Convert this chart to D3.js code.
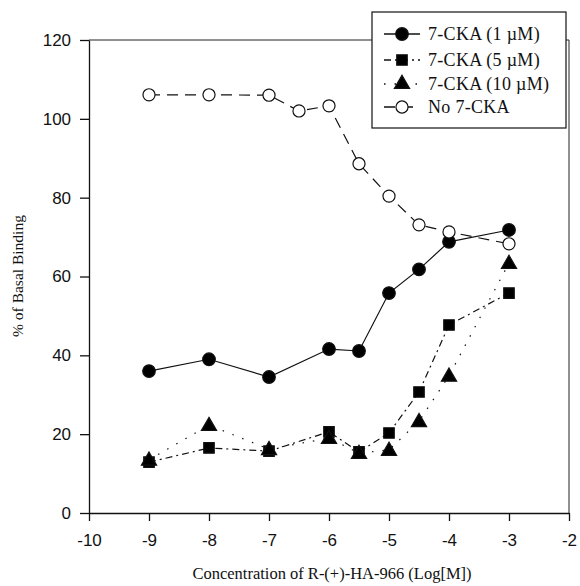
<!DOCTYPE html>
<html><head><meta charset="utf-8">
<script src="https://cdn.jsdelivr.net/npm/d3@7"></script>
<style>body{margin:0;background:#fff}svg{display:block}</style>
</head><body>
<svg id="c" width="580" height="586"></svg>
<script>
const xValues = [-9, -8, -7, -6, -5.5, -5, -4.5, -4, -3];
const xValuesNo = [-9, -8, -7, -6.5, -6, -5.5, -5, -4.5, -4, -3];
const cka1 = [36, 39, 34.5, 41.6, 41.1, 55.8, 61.8, 68.8, 71.8];
const cka5 = [12.9, 16.5, 15.7, 20.6, 15.5, 20.3, 30.7, 47.7, 55.8];
const cka10 = [13.5, 22.3, 16.2, 19, 15.2, 16, 23.3, 34.8, 63.4];
const noCka = [106.1, 106.1, 106, 102, 103.3, 88.6, 80.4, 73.1, 71.3, 68.3];
const xTicks = [-10, -9, -8, -7, -6, -5, -4, -3, -2];
const yTicks = [0, 20, 40, 60, 80, 100, 120];
const seriesNames = ["7-CKA (1 \u00B5M)", "7-CKA (5 \u00B5M)", "7-CKA (10 \u00B5M)", "No 7-CKA"];

const svg = d3.select("#c");
const L = 89, R = 569, T = 40, B = 513;
const x = d3.scaleLinear().domain([-10, -2]).range([L, R]);
const y = d3.scaleLinear().domain([0, 120]).range([B, T]);
const fmt = d => String(d);

// frame top/right
svg.append("line").attr("x1", L).attr("x2", R).attr("y1", T).attr("y2", T).attr("stroke", "#222").attr("stroke-width", 1);
svg.append("line").attr("x1", R).attr("x2", R).attr("y1", T).attr("y2", B).attr("stroke", "#222").attr("stroke-width", 1);

const xAxis = svg.append("g").attr("transform", `translate(0,${B})`)
  .call(d3.axisBottom(x).tickValues(xTicks).tickSize(8).tickSizeOuter(0).tickFormat(fmt));
const yAxis = svg.append("g").attr("transform", `translate(${L},0)`)
  .call(d3.axisLeft(y).tickValues(yTicks).tickSize(9).tickSizeOuter(0).tickFormat(fmt));
[xAxis, yAxis].forEach(g => {
  g.selectAll("path,line").attr("stroke", "#111").attr("stroke-width", 1.3);
  g.selectAll("text").attr("font-family", "Liberation Sans, Arial, sans-serif").attr("font-size", 17).attr("fill", "#111");
});
xAxis.selectAll("text").attr("dy", "1.3em");
yAxis.selectAll("text").attr("dx", "-0.35em");

svg.append("text").attr("x", 332).attr("y", 579).attr("text-anchor", "middle")
  .attr("font-family", "Liberation Serif, Times New Roman, serif").attr("font-size", 16.5).attr("fill", "#111")
  .text("Concentration of R-(+)-HA-966 (Log[M])");
svg.append("text").attr("transform", "translate(23,276) rotate(-90)").attr("text-anchor", "middle")
  .attr("font-family", "Liberation Serif, Times New Roman, serif").attr("font-size", 15.5).attr("fill", "#111")
  .text("% of Basal Binding");

const series = [
  {xs: xValues, ys: cka1, dash: null, sym: d3.symbolCircle, size: 125, fill: "#000"},
  {xs: xValues, ys: cka5, dash: "7,4,2,4", sym: d3.symbolSquare, size: 110, fill: "#000"},
  {xs: xValues, ys: cka10, dash: "1.5,9", sym: d3.symbolTriangle, size: 100, fill: "#000"},
  {xs: xValuesNo, ys: noCka, dash: "11,7", sym: d3.symbolCircle, size: 115, fill: "#fff"}
];
const line = d3.line().x(d => x(d[0])).y(d => y(d[1]));
series.forEach(s => {
  const pts = s.xs.map((v, i) => [v, s.ys[i]]);
  svg.append("path").attr("d", line(pts)).attr("fill", "none").attr("stroke", "#111")
    .attr("stroke-width", 1.2).attr("stroke-dasharray", s.dash);
});
series.forEach(s => {
  const pts = s.xs.map((v, i) => [v, s.ys[i]]);
  svg.selectAll(null).data(pts).enter().append("path")
    .attr("transform", d => `translate(${x(d[0])},${y(d[1]) + (s.sym === d3.symbolTriangle ? 1 : 0)})`)
    .attr("d", d3.symbol().type(s.sym).size(s.size)())
    .attr("fill", s.fill).attr("stroke", "#111").attr("stroke-width", 1.2);
});

// legend
const lg = svg.append("g");
lg.append("rect").attr("x", 372).attr("y", 12).attr("width", 194).attr("height", 116)
  .attr("fill", "#fff").attr("stroke", "#111").attr("stroke-width", 1.2);
const rowsY = [34, 60, 84, 107];
series.forEach((s, i) => {
  const yy = rowsY[i];
  lg.append("line").attr("x1", 384).attr("x2", 420).attr("y1", yy).attr("y2", yy)
    .attr("stroke", "#111").attr("stroke-width", 1.3).attr("stroke-dasharray", s.dash);
  lg.append("path").attr("transform", `translate(402,${yy})`)
    .attr("d", d3.symbol().type(s.sym).size(s.size)())
    .attr("fill", s.fill).attr("stroke", "#111").attr("stroke-width", 1.2);
  lg.append("text").attr("x", 428).attr("y", yy + 6)
    .attr("font-family", "Liberation Serif, Times New Roman, serif").attr("font-size", 18)
    .attr("letter-spacing", 0.3).attr("fill", "#111")
    .text(seriesNames[i]);
});
</script>
</body></html>
